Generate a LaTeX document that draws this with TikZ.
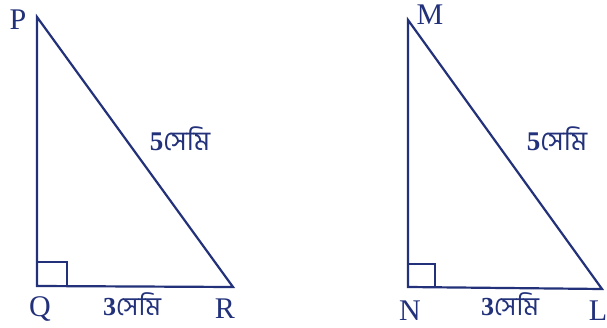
\documentclass[tikz,border=0pt]{standalone}
\usepackage{fontspec}
\setmainfont{Liberation Serif}
\newfontfamily\bnfont[Script=Bengali]{Hind Siliguri}
\definecolor{ink}{HTML}{22317A}
\begin{document}
\begin{tikzpicture}[x=1pt,y=-1pt,
  edge/.style={draw=ink,line width=2.2pt,line join=miter},
  sq/.style={draw=ink,line width=1.3pt},
  vlab/.style={text=ink,font=\fontsize{30}{30}\selectfont,inner sep=0pt},
  mlab/.style={text=ink,font=\fontsize{27}{27}\selectfont,inner sep=0pt,anchor=base},
  blab/.style={mlab,font=\fontsize{26}{26}\selectfont}]
\useasboundingbox (0,0) rectangle (607,328);
% left triangle
\coordinate (P) at (37,17);
\coordinate (Q) at (37,286);
\coordinate (R) at (233,287);
\draw[edge] (P) -- (Q) -- (R) -- cycle;
\draw[sq] (37,262) -- (67,262) -- (67,286.2);
\node[vlab] (lP) at (18,20) {P};
\node[vlab] (lQ) at (40,309) {Q};
\node[vlab] (lR) at (225,309) {R};
\node[blab] (lQR) at (132,315) {\textbf{3}\bnfont সেমি};
\node[mlab] (lPR) at (180,151) {\textbf{5}\bnfont সেমি};
% right triangle
\coordinate (M) at (408,20);
\coordinate (N) at (408,287);
\coordinate (L) at (602,289);
\draw[edge] (M) -- (N) -- (L) -- cycle;
\draw[sq] (408,264) -- (435,264) -- (435,287.3);
\node[vlab] (lM) at (430,15) {M};
\node[vlab] (lN) at (410,311) {N};
\node[vlab] (lL) at (598,311) {L};
\node[blab] (lNL) at (510,315) {\textbf{3}\bnfont সেমি};
\node[mlab] (lML) at (557,151) {\textbf{5}\bnfont সেমি};
\end{tikzpicture}
\end{document}
